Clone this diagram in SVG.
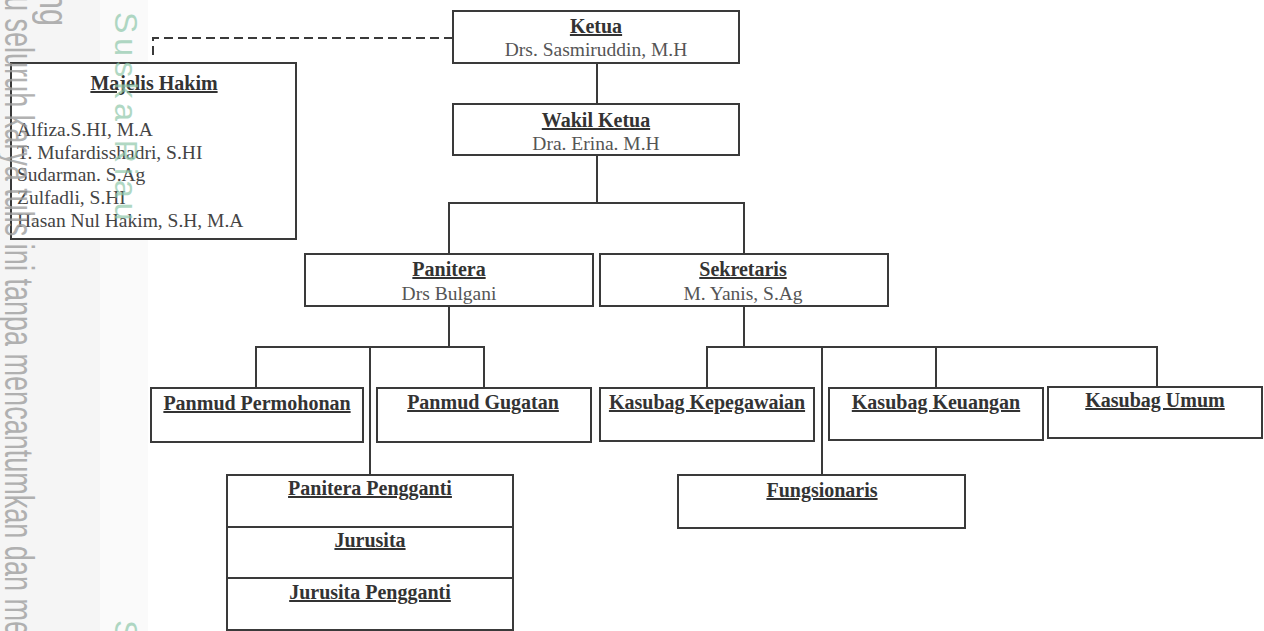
<svg xmlns="http://www.w3.org/2000/svg" width="1264" height="631" viewBox="0 0 1264 631">
<style>
.box{fill:#ffffff;stroke:#3a3a3a;stroke-width:2}
.ln{fill:none;stroke:#3a3a3a;stroke-width:2}
.dash{fill:none;stroke:#3a3a3a;stroke-width:2;stroke-dasharray:9 5}
.t{font-family:"Liberation Serif","Times New Roman",serif;font-size:20px;font-weight:bold;fill:#333;text-anchor:middle;text-decoration:underline}
.n{font-family:"Liberation Serif","Times New Roman",serif;font-size:19.5px;fill:#555;text-anchor:middle}
.l{font-family:"Liberation Serif","Times New Roman",serif;font-size:19.5px;fill:#444}
.wm{font-family:"Liberation Sans",Arial,sans-serif;font-size:40px;fill:#a0a0a0;opacity:0.8}
.wg{font-family:"Liberation Sans",Arial,sans-serif;font-size:32px;fill:#8fc8ab;opacity:0.7;letter-spacing:5px}
</style>
<rect x="0" y="0" width="1264" height="631" fill="#ffffff"/>
<g id="band">
  <rect x="0" y="0" width="100" height="631" fill="#f5f5f5"/>
  <rect x="100" y="0" width="48" height="631" fill="#fafafa"/>
</g>
<g id="connectors">
  <polyline class="dash" points="453,38 153,38 153,56"/>
  <line class="ln" x1="597" y1="63" x2="597" y2="104"/>
  <line class="ln" x1="597" y1="155" x2="597" y2="203"/>
  <polyline class="ln" points="449,254 449,203 744,203 744,254"/>
  <line class="ln" x1="449" y1="306" x2="449" y2="347"/>
  <polyline class="ln" points="256,388 256,347 484,347 484,388"/>
  <line class="ln" x1="370" y1="347" x2="370" y2="475"/>
  <line class="ln" x1="744" y1="306" x2="744" y2="347"/>
  <polyline class="ln" points="707,388 707,347 1157,347 1157,387"/>
  <line class="ln" x1="936" y1="347" x2="936" y2="388"/>
  <line class="ln" x1="822" y1="347" x2="822" y2="475"/>
</g>
<g id="ketua">
  <rect class="box" x="453" y="11" width="286" height="52"/>
  <text class="t" x="596" y="33">Ketua</text>
  <text class="n" x="596" y="56">Drs. Sasmiruddin, M.H</text>
</g>
<g id="wakil-ketua">
  <rect class="box" x="453" y="104" width="286" height="51"/>
  <text class="t" x="596" y="127">Wakil Ketua</text>
  <text class="n" x="596" y="150">Dra. Erina. M.H</text>
</g>
<g id="majelis-hakim">
  <rect class="box" x="11" y="63" width="285" height="176"/>
  <text class="t" x="154" y="90">Majelis Hakim</text>
  <text class="l" x="17" y="136">Alfiza.S.HI, M.A</text>
  <text class="l" x="17" y="159">T. Mufardisshadri, S.HI</text>
  <text class="l" x="17" y="181">Sudarman. S.Ag</text>
  <text class="l" x="17" y="204">Zulfadli, S.HI</text>
  <text class="l" x="17" y="227">Hasan Nul Hakim, S.H, M.A</text>
</g>
<g id="panitera">
  <rect class="box" x="305" y="254" width="288" height="52"/>
  <text class="t" x="449" y="276">Panitera</text>
  <text class="n" x="449" y="300">Drs Bulgani</text>
</g>
<g id="sekretaris">
  <rect class="box" x="600" y="254" width="288" height="52"/>
  <text class="t" x="743" y="276">Sekretaris</text>
  <text class="n" x="743" y="300">M. Yanis, S.Ag</text>
</g>
<g id="panmud-permohonan">
  <rect class="box" x="151" y="388" width="212" height="54"/>
  <text class="t" x="257" y="410">Panmud Permohonan</text>
</g>
<g id="panmud-gugatan">
  <rect class="box" x="377" y="388" width="214" height="54"/>
  <text class="t" x="483" y="409">Panmud Gugatan</text>
</g>
<g id="kasubag-kepegawaian">
  <rect class="box" x="600" y="388" width="214" height="53"/>
  <text class="t" x="707" y="409">Kasubag Kepegawaian</text>
</g>
<g id="kasubag-keuangan">
  <rect class="box" x="829" y="388" width="214" height="52"/>
  <text class="t" x="936" y="409">Kasubag Keuangan</text>
</g>
<g id="kasubag-umum">
  <rect class="box" x="1048" y="387" width="214" height="51"/>
  <text class="t" x="1155" y="407">Kasubag Umum</text>
</g>
<g id="panitera-pengganti">
  <rect class="box" x="227" y="475" width="286" height="155"/>
  <line class="ln" x1="227" y1="527" x2="513" y2="527"/>
  <line class="ln" x1="227" y1="578" x2="513" y2="578"/>
  <text class="t" x="370" y="495">Panitera Pengganti</text>
  <text class="t" x="370" y="547">Jurusita</text>
  <text class="t" x="370" y="599">Jurusita Pengganti</text>
</g>
<g id="fungsionaris">
  <rect class="box" x="678" y="475" width="287" height="53"/>
  <text class="t" x="822" y="497">Fungsionaris</text>
</g>
<g id="watermark">
  <text class="wm" transform="translate(40,-8) rotate(90)" textLength="34" lengthAdjust="spacingAndGlyphs" font-size="30">ng</text>
  <text class="wm" transform="translate(5,-4) rotate(90)" textLength="640" lengthAdjust="spacingAndGlyphs">u seluruh karya tulis ini tanpa mencantumkan dan me</text>
  <text class="wg" transform="translate(115,12) rotate(90)">Suska Riau</text>
  <text class="wg" transform="translate(115,620) rotate(90)">S</text>
</g>
</svg>
